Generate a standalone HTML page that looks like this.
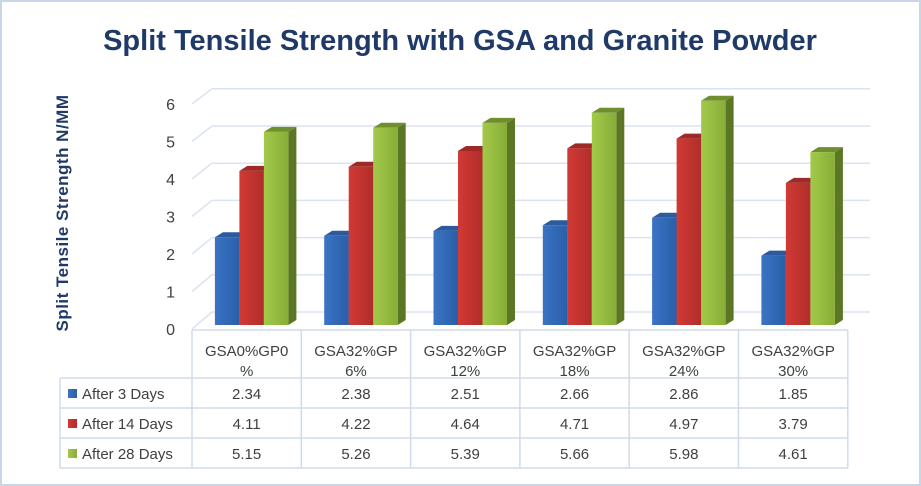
<!DOCTYPE html>
<html><head><meta charset="utf-8"><style>
body{margin:0;background:#fff;}
svg{display:block;font-family:"Liberation Sans",sans-serif;}
</style></head><body>
<svg id="chart" width="921" height="486">
<defs>
<linearGradient id="gb" x1="0" x2="1"><stop offset="0" stop-color="#3a74c4"/><stop offset="1" stop-color="#2a5ea8"/></linearGradient>
<linearGradient id="gr" x1="0" x2="1"><stop offset="0" stop-color="#d23a35"/><stop offset="1" stop-color="#b02d2a"/></linearGradient>
<linearGradient id="gg" x1="0" x2="1"><stop offset="0" stop-color="#a3c94a"/><stop offset="1" stop-color="#88ad38"/></linearGradient>
</defs>
<rect x="1" y="1" width="919" height="484" fill="#fff" stroke="#c9d6e8" stroke-width="2"/>
<text x="460" y="50" text-anchor="middle" font-size="29" font-weight="bold" fill="#1f3a68">Split Tensile Strength with GSA and Granite Powder</text>
<text transform="translate(68,213) rotate(-90)" text-anchor="middle" font-size="17" font-weight="bold" letter-spacing="0.5" fill="#1f3a68">Split Tensile Strength N/MM</text>
<g id="grid"></g><g id="bars"></g><g id="table"></g>
</svg>
<script>
const categories1=["GSA0%GP0","GSA32%GP","GSA32%GP","GSA32%GP","GSA32%GP","GSA32%GP"];
const categories2=["%","6%","12%","18%","24%","30%"];
const seriesNames=["After 3 Days","After 14 Days","After 28 Days"];
const day3=[2.34,2.38,2.51,2.66,2.86,1.85];
const day14=[4.11,4.22,4.64,4.71,4.97,3.79];
const day28=[5.15,5.26,5.39,5.66,5.98,4.61];
const yTicks=[0,1,2,3,4,5,6];
const series=[day3,day14,day28];
const fills=["url(#gb)","url(#gr)","url(#gg)"];
const tops=["#2c5a9c","#9e2a27","#6f8f2c"];
const sides=["#234a82","#86221f","#5b7624"];
const NS="http://www.w3.org/2000/svg";
function mk(t,a,p){const e=document.createElementNS(NS,t);for(const k in a)e.setAttribute(k,a[k]);p.appendChild(e);return e;}
const base=325,k=37.5;
function yF(v){return base-v*k;}
function yB(v){return 312-v*37.2;}
const x0=192,colW=109.3;
const grid=document.getElementById('grid');
yTicks.forEach(v=>{
 const l=mk('polyline',{points:`192,${yF(v)+4} 212,${yB(v)} 870,${yB(v)}`,fill:'none',stroke:'#dbe3ef','stroke-width':1.5},grid);
 
 
 const t=mk('text',{x:175,y:yF(v)+10,'text-anchor':'end','font-size':16,fill:'#404040'},grid);
 t.textContent=v;
 
 
});
const bars=document.getElementById('bars');
const bw=24.5,dx=8,dy=5;
for(let c=0;c<6;c++){
 const cx=x0+colW*(c+0.5)+5;
 series.forEach((s,si)=>{
  const x=cx-bw*1.5+si*bw, y=yF(s[c]);
  const g=mk('g',{},bars);
  
  
  mk('polygon',{points:`${x+bw},${y} ${x+bw+dx},${y-dy} ${x+bw+dx},${base-dy} ${x+bw},${base}`,fill:sides[si]},g);
  mk('polygon',{points:`${x},${y} ${x+dx},${y-dy} ${x+bw+dx},${y-dy} ${x+bw},${y}`,fill:tops[si]},g);
  mk('rect',{x:x,y:y,width:bw,height:base-y,fill:fills[si]},g);
 });
}
const tb=document.getElementById('table');
const rows=[330,378,408,438,468];
const tcol='#d0dbea';
mk('line',{x1:192,y1:330,x2:848,y2:330,stroke:tcol,'stroke-width':1.5},tb);
for(let r=1;r<5;r++)mk('line',{x1:60,y1:rows[r],x2:848,y2:rows[r],stroke:tcol,'stroke-width':1.5},tb);
mk('line',{x1:60,y1:378,x2:60,y2:468,stroke:tcol,'stroke-width':1.5},tb);
for(let c=0;c<=6;c++)mk('line',{x1:x0+colW*c,y1:330,x2:x0+colW*c,y2:468,stroke:tcol,'stroke-width':1.5},tb);
for(let c=0;c<6;c++){
 const cx=x0+colW*(c+0.5);
 const t1=mk('text',{x:cx,y:356,'text-anchor':'middle','font-size':15,fill:'#404040'},tb);t1.textContent=categories1[c];
 
 
 const t2=mk('text',{x:cx,y:376,'text-anchor':'middle','font-size':15,fill:'#404040'},tb);t2.textContent=categories2[c];
 
 
 series.forEach((s,si)=>{
  const t=mk('text',{x:cx,y:rows[si+1]+21,'text-anchor':'middle','font-size':15,fill:'#404040'},tb);
  t.textContent=s[c].toFixed(2);
  
  
 });
}
seriesNames.forEach((n,si)=>{
 const g=mk('g',{},tb);
 
 
 mk('rect',{x:68,y:rows[si+1]+11,width:9,height:9,fill:fills[si]},g);
 const t=mk('text',{x:82,y:rows[si+1]+21,'font-size':15,fill:'#404040'},g);t.textContent=n;
});
</script>
</body></html>
